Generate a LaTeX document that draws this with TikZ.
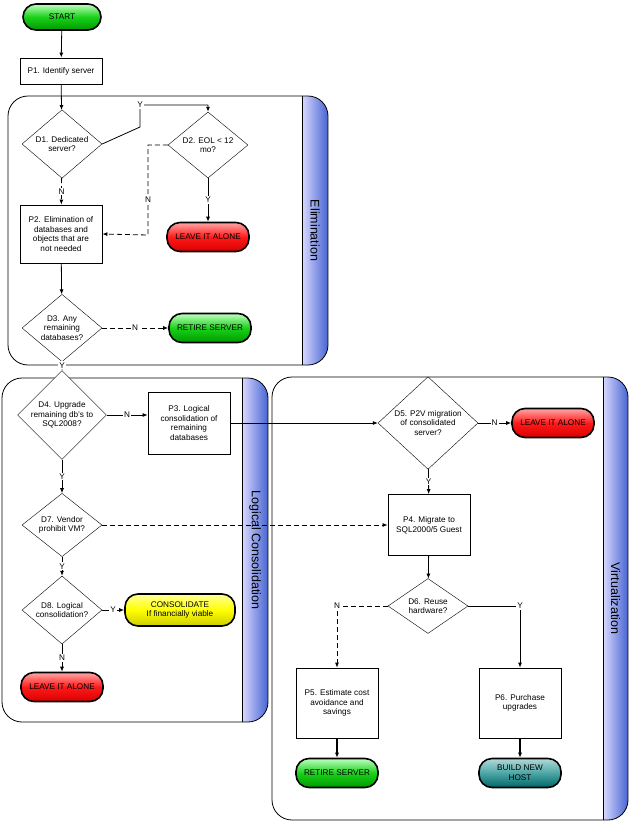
\documentclass[tikz,border=0pt]{standalone}
\usepackage{fontspec}
\setmainfont{Liberation Sans}
\usetikzlibrary{shapes.geometric,arrows.meta}
\begin{document}
\begin{tikzpicture}[x=1pt,y=-1pt,
  every node/.style={font=\fontsize{8.2}{9.6}\selectfont, align=center},
  box/.style={draw, thick, fill=white, minimum width=82pt, inner sep=1pt},
  dia/.style={draw, diamond, fill=white, inner sep=0pt},
  pill/.style={draw=black, line width=1.6pt, rounded corners=13pt, minimum width=82pt, minimum height=29pt, inner sep=1pt},
  red/.style={pill, top color=red!35, bottom color=red!85!black, middle color=red!90},
  grn/.style={pill, top color=green!25, bottom color=green!60!black, middle color=green!80!black!90},
  ylw/.style={pill, top color=yellow!40, bottom color=yellow!80!black, middle color=yellow},
  teal/.style={pill, top color=teal!30, bottom color=teal!80!black, middle color=teal!70},
  ar/.style={-{Latex[length=5pt,width=4pt]}, thick},
  da/.style={ar, dashed, dash pattern=on 5pt off 3pt},
  lab/.style={fill=white, inner sep=1pt}
]
\useasboundingbox (0,0) rectangle (630,827);
\fill[white] (0,0) rectangle (630,827);
% lanes
\newcommand{\mylane}[6]{%
  \begin{scope}
  \clip[rounded corners=20pt] (#1,#2) rectangle (#3,#4);
  \shade[left color=blue!15, right color={rgb,255:red,70;green,100;blue,210}] (#5,#2) rectangle (#3,#4);
  \end{scope}
  \draw[thick, rounded corners=20pt] (#1,#2) rectangle (#3,#4);
  \draw[thick] (#5,#2) -- (#5,#4);
  \node[rotate=-90, font=\fontsize{12.5}{14}\selectfont] at ({(#5+#3)/2},{(#2+#4)/2}) {#6};}
\mylane{8}{96}{328}{365}{302}{Elimination}
\mylane{2}{378}{268}{722}{242}{Logical Consolidation}
\mylane{272}{377}{628}{820}{603}{Virtualization}

\node[grn, minimum width=78pt, minimum height=26pt] (start) at (62,17) {START};
\node[box, minimum height=26pt] (p1) at (61,71) {P1. Identify server};
\node[dia, minimum width=80pt, minimum height=58pt] (d1) at (62,144) {D1. Dedicated\\server?};
\node[dia, minimum width=80pt, minimum height=58pt] (d2) at (208,145) {D2. EOL < 12\\mo?};
\node[red] (l1) at (208,237) {LEAVE IT ALONE};
\node[box, minimum height=58pt] (p2) at (61,234) {P2. Elimination of\\databases and\\objects that are\\not needed};
\node[dia, minimum width=80pt, minimum height=58pt] (d3) at (62,328) {D3. Any\\remaining\\databases?};
\node[grn] (r1) at (210,328) {RETIRE SERVER};
\node[dia, minimum width=82pt, minimum height=62pt] (d4) at (62,415) {D4. Upgrade\\remaining db's to\\SQL2008?};
\node[box, minimum height=62pt] (p3) at (189,423) {P3. Logical\\consolidation of\\remaining\\databases};
\node[dia, minimum width=100pt, minimum height=90pt] (d5) at (428,423) {D5. P2V migration\\of consolidated\\server?};
\node[red] (l2) at (553,423) {LEAVE IT ALONE};
\node[box, minimum height=61pt] (p4) at (429,525) {P4. Migrate to\\SQL2000/5 Guest};
\node[dia, minimum width=80pt, minimum height=60pt] (d7) at (62,525) {D7. Vendor\\prohibit VM?};
\node[dia, minimum width=80pt, minimum height=48pt] (d6) at (428,606) {D6. Reuse\\hardware?};
\node[dia, minimum width=80pt, minimum height=56pt] (d8) at (62,610) {D8. Logical\\consolidation?};
\node[ylw, minimum width=110pt, minimum height=32pt] (c1) at (180,610) {CONSOLIDATE\\If financially viable};
\node[red] (l3) at (62,687) {LEAVE IT ALONE};
\node[box, minimum height=70pt] (p5) at (337,703) {P5. Estimate cost\\avoidance and\\savings};
\node[box, minimum height=70pt] (p6) at (520,703) {P6. Purchase\\upgrades};
\node[grn] (r2) at (337,773) {RETIRE SERVER};
\node[teal] (b1) at (520,773) {BUILD NEW\\HOST};

\draw[ar] (start) -- (p1);
\draw[ar] (p1) -- (d1);
\draw[ar] (d1.east) -- (140,127) -- (140,105) -- (208,105) -- (d2.north);
\node[lab] at (140,105) {Y};
\draw[ar] (d2) -- node[lab]{Y} (l1);
\draw[da] (d2.west) -- (148,145) -- (148,235) -- (p2.east);
\node[lab] at (148,200) {N};
\draw[da] (d1) -- node[lab]{N} (p2);
\draw[ar] (p2) -- (d3);
\draw[da] (d3) -- node[lab]{N} (r1);
\draw[ar] (d3) -- node[lab, pos=0.4]{Y} (d4);
\draw[ar] (d4.east) -- node[lab]{N} (p3.west |- d4.east);
\draw[ar] (p3.east) -- (d5.west);
\draw[ar] (d5) -- node[lab]{N} (l2);
\draw[ar] (d5) -- node[lab]{Y} (p4);
\draw[ar] (d4) -- node[lab]{Y} (d7);
\draw[da] (d7.east) -- (p4.west);
\draw[ar] (p4) -- (d6);
\draw[da] (d6.west) -- (337,606) -- (p5.north);
\node[lab] at (337,606) {N};
\draw[ar] (d6.east) -- (520,606) -- (p6.north);
\node[lab] at (520,606) {Y};
\draw[ar, line width=1.4pt] (p5) -- (r2);
\draw[ar, line width=1.4pt] (p6) -- (b1);
\draw[ar] (d7) -- node[lab]{Y} (d8);
\draw[ar] (d8) -- node[lab]{Y} (c1);
\draw[ar] (d8) -- node[lab]{N} (l3);
\end{tikzpicture}
\end{document}
